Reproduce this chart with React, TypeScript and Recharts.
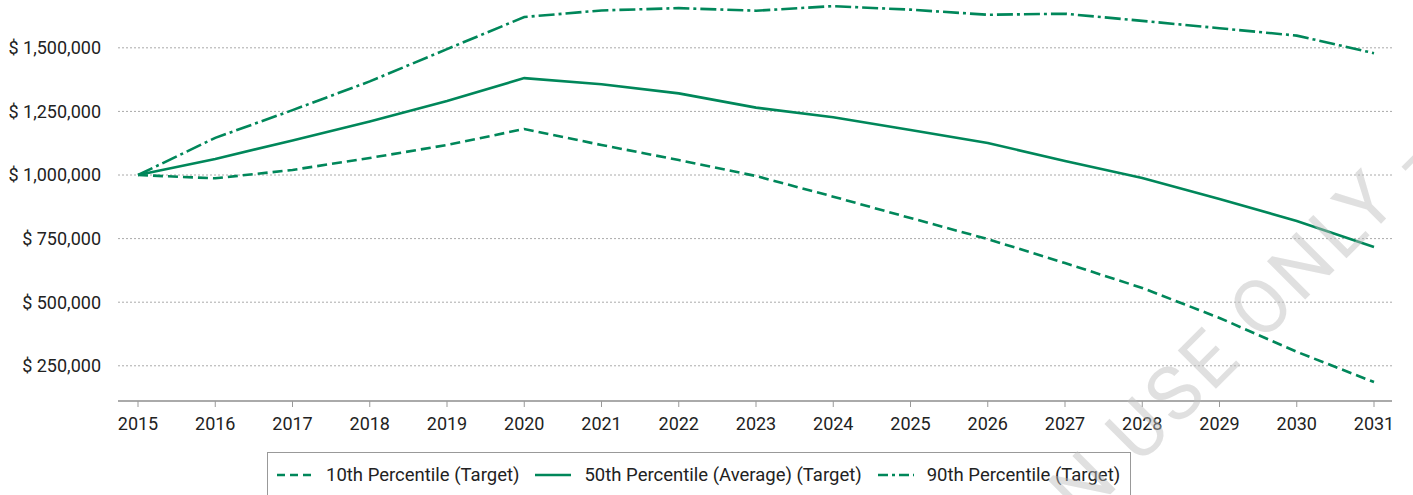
import React from 'react';
import { LineChart, Line, XAxis, YAxis, ReferenceLine } from 'recharts';

const years = ['2015', '2016', '2017', '2018', '2019', '2020', '2021', '2022', '2023', '2024', '2025', '2026', '2027', '2028', '2029', '2030', '2031'];
const p10 = [1000000, 987000, 1020000, 1067000, 1118000, 1181000, 1118000, 1059000, 996000, 915000, 831000, 748000, 654000, 556000, 438000, 305000, 186000];
const p50 = [1000000, 1063000, 1136000, 1210000, 1291000, 1381000, 1357000, 1321000, 1265000, 1227000, 1177000, 1126000, 1055000, 988000, 906000, 819000, 717000];
const p90 = [1000000, 1146000, 1255000, 1368000, 1495000, 1621000, 1647000, 1656000, 1646000, 1664000, 1650000, 1630000, 1634000, 1606000, 1577000, 1548000, 1479000];
const yTicks = [250000, 500000, 750000, 1000000, 1250000, 1500000];

const GREEN = '#00875A';
const FONT = 'Roboto, sans-serif';

const data = years.map((year, i) => ({ year, p10: p10[i], p50: p50[i], p90: p90[i] }));

const series = [
    { key: 'p10', name: '10th Percentile (Target)', dash: '10 5', iconDash: '8 5' },
    { key: 'p50', name: '50th Percentile (Average) (Target)', dash: undefined, iconDash: undefined },
    { key: 'p90', name: '90th Percentile (Target)', dash: '16 4 3 4', iconDash: '10 4 3 4' },
];

const money = (v: number) => '$ ' + v.toLocaleString('en-US');

export default function App() {
    return (
        <div style={{ position: 'absolute', left: 0, top: 0, width: 1413, height: 495, overflow: 'hidden', background: '#fff', fontFamily: FONT }}>
            <LineChart
                width={1413}
                height={495}
                data={data}
                margin={{ top: 0, right: 21, left: 8, bottom: 54 }}
                accessibilityLayer={false}
                style={{ outline: 'none' }}
            >
                {/* dotted gridlines only at the labelled values */}
                {yTicks.map((t) => (
                    <ReferenceLine key={t} y={t} stroke="#aaa" strokeDasharray="2 2" strokeWidth={1} />
                ))}
                <XAxis
                    dataKey="year"
                    height={40}
                    padding={{ left: 20, right: 18 }}
                    stroke="#aaa"
                    strokeWidth={2}
                    tickSize={6}
                    tickMargin={10}
                    tickLine={{ stroke: '#999', strokeWidth: 1 }}
                    tick={{ fill: '#222', fontSize: 18, fontFamily: FONT }}
                    interval={0}
                />
                <YAxis
                    width={110}
                    domain={[111600, 1688000]}
                    ticks={yTicks}
                    interval={0}
                    axisLine={false}
                    tickLine={false}
                    tickSize={0}
                    tickMargin={17}
                    tickFormatter={money}
                    tick={{ fill: '#222', fontSize: 18, fontFamily: FONT }}
                />
                {series.map((s) => (
                    <Line
                        key={s.key}
                        dataKey={s.key}
                        name={s.name}
                        type="linear"
                        stroke={GREEN}
                        strokeWidth={2.6}
                        strokeDasharray={s.dash}
                        dot={false}
                        activeDot={false}
                        isAnimationActive={false}
                    />
                ))}
            </LineChart>

            <div
                style={{
                    position: 'absolute',
                    left: 267,
                    top: 452,
                    width: 864,
                    height: 70,
                    boxSizing: 'border-box',
                    border: '1px solid #999',
                    display: 'flex',
                    alignItems: 'flex-start',
                    paddingLeft: 9,
                    paddingTop: 11,
                    fontSize: 18.5,
                    color: '#222',
                }}
            >
                {series.map((s) => (
                    <div key={s.key} style={{ display: 'flex', alignItems: 'center', marginRight: 16, whiteSpace: 'nowrap' }}>
                        <svg width={36} height={20} style={{ marginRight: 13 }}>
                            <line x1={0} y1={10} x2={36} y2={10} stroke={GREEN} strokeWidth={2.6} strokeDasharray={s.iconDash} />
                        </svg>
                        <span>{s.name}</span>
                    </div>
                ))}
            </div>

            <svg width={1413} height={495} style={{ position: 'absolute', left: 0, top: 0, pointerEvents: 'none' }}>
                <text
                    x={1418}
                    y={150}
                    textAnchor="end"
                    dominantBaseline="central"
                    transform="rotate(-45 1418 150)"
                    fontFamily={FONT}
                    fontSize={76}
                    fontWeight={400}
                    letterSpacing={4}
                    fill="#bbb"
                    fillOpacity={0.45}
                >
                    ON USE ONLY -
                </text>
            </svg>
        </div>
    );
}
